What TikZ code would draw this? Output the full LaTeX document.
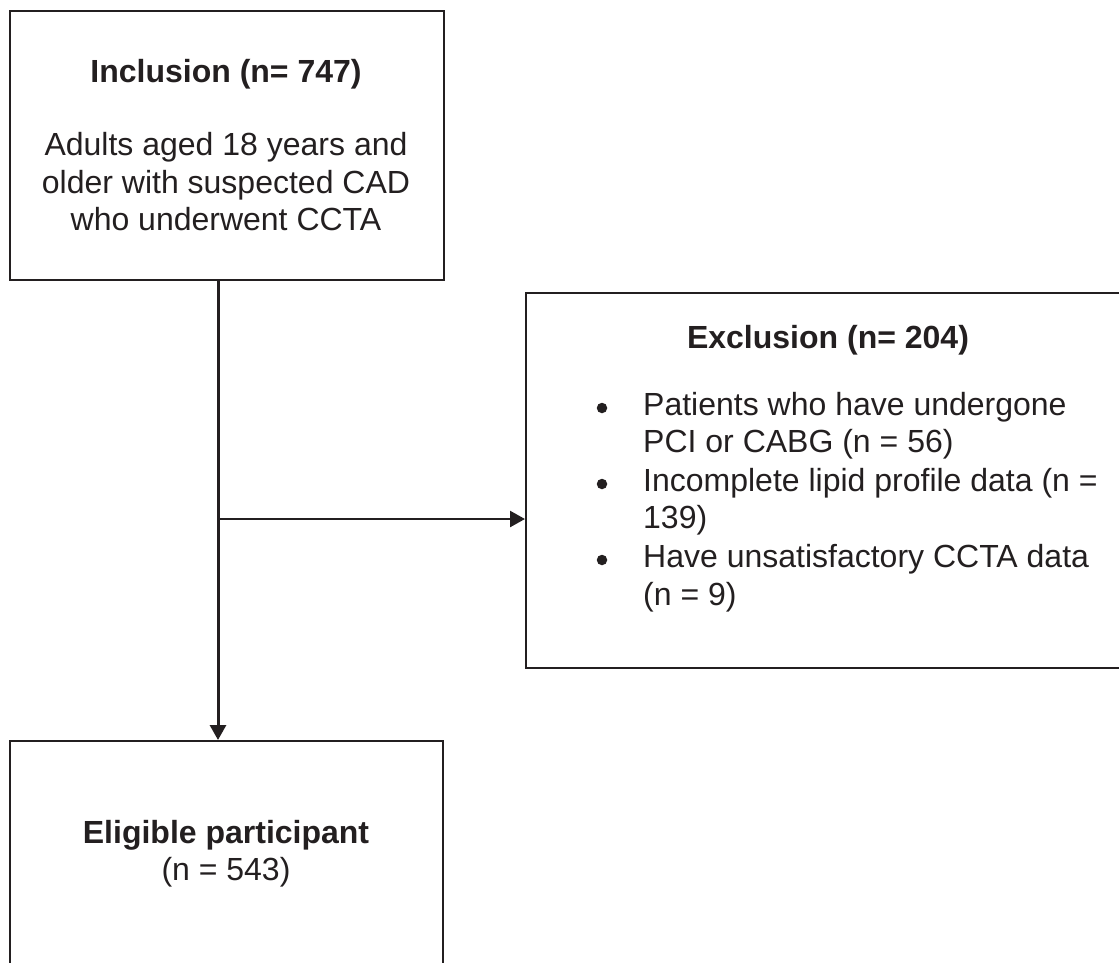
\documentclass[tikz,border=0pt]{standalone}
\usepackage{fontspec}
\setmainfont{Liberation Sans}
\usetikzlibrary{arrows.meta}
\definecolor{ink}{RGB}{35,31,32}
\begin{document}
\begin{tikzpicture}[x=1pt,y=-1pt,
  box/.style={draw=ink, line width=2.2pt, inner sep=0pt, anchor=north west},
  txt/.style={anchor=base, inner sep=0pt, text=ink, font=\fontsize{32}{37.5}\selectfont},
  bold/.style={txt, font=\fontsize{32}{37.5}\selectfont\bfseries},
  txtl/.style={txt, anchor=base west},
  bul/.style={circle, fill=ink, inner sep=0pt, minimum size=10.5pt},
  flow/.style={draw=ink, -{Triangle[length=15pt,width=16pt]}}]
\useasboundingbox (0,0) rectangle (1119,962);
\clip (0,0) rectangle (1119,962);
% boxes
\node[box, minimum width=434pt, minimum height=269pt] (incl) at (9,10) {};
\node[box, minimum width=700pt, minimum height=375pt] (excl) at (525,292) {};
\node[box, minimum width=433pt, minimum height=300pt] (elig) at (9,740) {};
% connectors
\coordinate (split) at (218,519);
\draw[flow, line width=3pt] (incl.south -| split) -- (elig.north -| split);
\draw[flow, line width=2.5pt] (split) -- (split -| excl.west);
% inclusion text
\node[bold] (i1) at (226,82) {Inclusion (n= 747)};
\node[txt] (i2) at (226,155) {Adults aged 18 years and};
\node[txt] (i3) at (226,193) {older with suspected CAD};
\node[txt] (i4) at (226,230) {who underwent CCTA};
% exclusion text
\node[bold] (e0) at (828,348) {Exclusion (n= 204)};
\node[bul] (b1) at (602,408) {};
\node[txtl] (e1) at (643,415) {Patients who have undergone};
\node[txtl] (e2) at (643,452) {PCI or CABG (n = 56)};
\node[bul] (b2) at (602,484) {};
\node[txtl] (e3) at (643,491) {Incomplete lipid profile data (n =};
\node[txtl] (e4) at (643,528) {139)};
\node[bul] (b3) at (602,560) {};
\node[txtl] (e5) at (643,567) {Have unsatisfactory CCTA data};
\node[txtl] (e6) at (643,605) {(n = 9)};
% eligible text
\node[bold] (g1) at (226,843) {Eligible participant};
\node[txt] (g2) at (226,880) {(n = 543)};
\end{tikzpicture}
\end{document}
